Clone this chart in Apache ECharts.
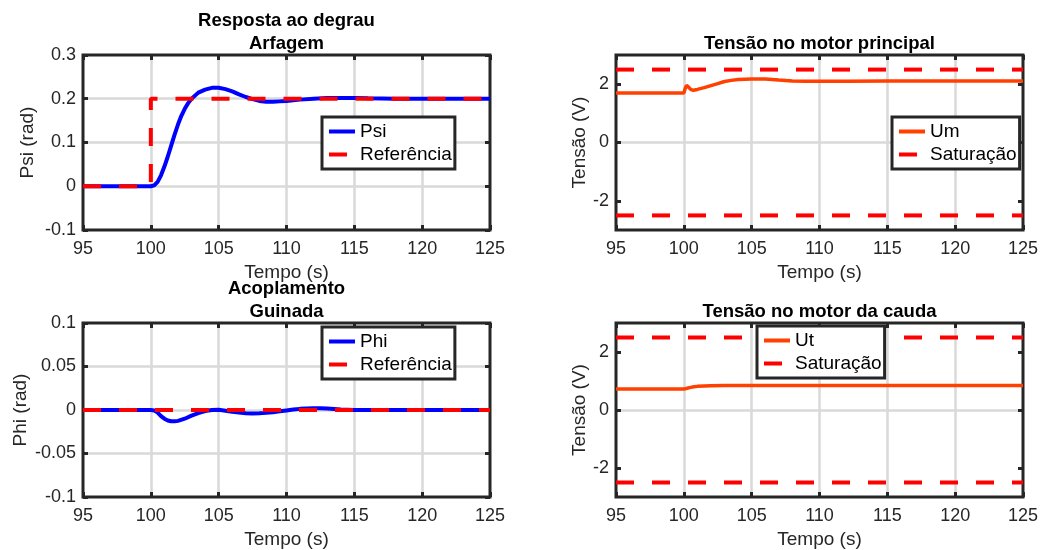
<!DOCTYPE html>
<html>
<head>
<meta charset="utf-8">
<script src="https://cdn.jsdelivr.net/npm/echarts@6/dist/echarts.min.js"></script>
<style>
  html, body { margin: 0; padding: 0; background: #ffffff; }
  #chart { width: 1043px; height: 550px; }
</style>
</head>
<body>
<div id="chart"></div>
<script>
// ---- data -------------------------------------------------------------
const timeTicks = [95, 100, 105, 110, 115, 120, 125];
const voltageTicks = [-2, 0, 2];

// Pitch (Arfagem) step response
const psiTime = [95, 100, 100.25, 100.5, 100.75, 101, 101.25, 101.5, 101.75, 102,
  102.25, 102.5, 102.75, 103, 103.5, 104, 104.5, 105, 105.5, 106,
  106.5, 107, 107.5, 108, 108.5, 109, 109.5, 110, 111, 112,
  113, 114, 115, 116, 118, 120, 125];
const psiValues = [0, 0, 0.002, 0.010, 0.025, 0.045, 0.068, 0.093, 0.118, 0.141,
  0.161, 0.177, 0.190, 0.200, 0.214, 0.221, 0.225, 0.225, 0.222, 0.217,
  0.210, 0.204, 0.199, 0.195, 0.193, 0.193, 0.194, 0.195, 0.198, 0.200,
  0.202, 0.202, 0.202, 0.201, 0.200, 0.200, 0.200];
const psiRefTime = [95, 100, 100, 125];
const psiRefValues = [0, 0, 0.2, 0.2];

// Yaw (Guinada) coupling
const phiTime = [95, 100, 100.25, 100.5, 100.75, 101, 101.25, 101.5, 101.75, 102,
  102.5, 103, 103.5, 104, 104.5, 105, 105.5, 106, 106.5, 107,
  107.5, 108, 108.5, 109, 109.5, 110, 110.5, 111, 111.5, 112,
  112.5, 113, 113.5, 114, 115, 116, 125];
const phiValues = [0, 0, -0.0005, -0.003, -0.007, -0.010, -0.012, -0.013, -0.013, -0.0125,
  -0.010, -0.0065, -0.0035, -0.0012, 0, 0.0003, -0.0008, -0.002, -0.003, -0.0037,
  -0.004, -0.0038, -0.0033, -0.0025, -0.0015, -0.0005, 0.0005, 0.0013, 0.0018, 0.002,
  0.002, 0.0017, 0.0012, 0.0006, 0.0001, 0, 0];
const phiRefTime = [95, 125];
const phiRefValues = [0, 0];

// Main motor voltage
const umTime = [95, 100, 100.1, 100.2, 100.35, 100.5, 100.7, 101, 101.5, 102,
  102.5, 103, 103.5, 104, 104.5, 105, 106, 107, 108, 109,
  110, 112, 115, 120, 125];
const umValues = [1.70, 1.70, 1.85, 1.96, 1.90, 1.82, 1.79, 1.82, 1.88, 1.95,
  2.02, 2.09, 2.13, 2.16, 2.17, 2.18, 2.18, 2.14, 2.11, 2.10,
  2.10, 2.10, 2.11, 2.11, 2.11];

// Tail motor voltage
const utTime = [95, 100, 100.25, 100.5, 100.75, 101, 101.5, 102, 103, 104, 125];
const utValues = [0.72, 0.72, 0.75, 0.78, 0.80, 0.815, 0.83, 0.84, 0.845, 0.848, 0.848];

// Actuator saturation limits
const satTime = [95, 125];
const satUpper = [2.5, 2.5];
const satLower = [-2.5, -2.5];

// ---- styling ----------------------------------------------------------
const FONT = '"Liberation Sans", Arial, Helvetica, sans-serif';
const INK = '#262626';
const GRIDLINE = '#d9d9d9';
const BLUE = '#0000ff';
const RED = '#ff0000';
const ORANGE = '#ff4000';
const DASH = [18, 18];

function pairs(t, v) { return t.map((x, i) => [x, v[i]]); }

const gridBoxes = [
  { left: 83, top: 55, width: 407, height: 175 },
  { left: 616, top: 55, width: 407, height: 175 },
  { left: 83, top: 323, width: 407, height: 177 },
  { left: 616, top: 323, width: 407, height: 177 }
];

const tickStyle = { show: true, inside: true, length: 5, lineStyle: { color: INK, width: 3 } };
const labelStyle = { color: INK, fontSize: 18, fontFamily: FONT };
const nameStyle = { color: INK, fontSize: 19, fontFamily: FONT };
const splitStyle = { show: true, showMinLine: false, showMaxLine: false, lineStyle: { color: GRIDLINE, width: 2.5 } };
const hiddenLine = { show: false, onZero: false };

function timeAxes(g) {
  return [
    {
      type: 'value', gridIndex: g, position: 'bottom',
      min: timeTicks[0], max: timeTicks[timeTicks.length - 1], interval: 5,
      name: 'Tempo (s)', nameLocation: 'middle', nameGap: 33, nameTextStyle: nameStyle,
      axisLine: hiddenLine, axisTick: tickStyle,
      axisLabel: Object.assign({ margin: 10 }, labelStyle),
      splitLine: splitStyle
    },
    {
      type: 'value', gridIndex: g, position: 'top',
      min: timeTicks[0], max: timeTicks[timeTicks.length - 1], interval: 5,
      axisLine: hiddenLine, axisTick: tickStyle,
      axisLabel: { show: false }, splitLine: { show: false }
    }
  ];
}

function valueAxes(g, spec) {
  const tick = Object.assign({}, tickStyle);
  const label = Object.assign({ margin: 7 }, labelStyle);
  if (spec.ticks) { tick.customValues = spec.ticks; label.customValues = spec.ticks; }
  const base = { type: 'value', gridIndex: g, min: spec.min, max: spec.max };
  if (!spec.ticks) base.interval = spec.interval;
  return [
    Object.assign({}, base, {
      position: 'left',
      name: spec.name, nameLocation: 'middle', nameGap: spec.nameGap, nameTextStyle: nameStyle,
      axisLine: hiddenLine, axisTick: tick, axisLabel: label,
      splitLine: splitStyle
    }),
    Object.assign({}, base, {
      position: 'right',
      axisLine: hiddenLine, axisTick: tick,
      axisLabel: { show: false }, splitLine: { show: false }
    })
  ];
}

function lineSeries(name, g, t, v, color, width, dashed) {
  return {
    type: 'line', name: name, xAxisIndex: 2 * g, yAxisIndex: 2 * g,
    data: pairs(t, v), symbol: 'none', showSymbol: false, smooth: false,
    animation: false, silent: true,
    lineStyle: { color: color, width: width, type: dashed ? DASH : 'solid', cap: 'butt' },
    itemStyle: { color: color }
  };
}

function legendBox(left, top, names) {
  return {
    left: left, top: top, orient: 'vertical', data: names,
    itemWidth: 26, itemHeight: 14, itemGap: 2,
    padding: [4, 3, 4, 5],
    backgroundColor: '#ffffff', borderColor: INK, borderWidth: 3, borderRadius: 0,
    selectedMode: false,
    itemStyle: { opacity: 0, borderWidth: 0 },
    lineStyle: { width: 4 },
    textStyle: { color: '#000000', fontSize: 19, fontFamily: FONT, lineHeight: 21 }
  };
}

function titleText(text, cx, top) {
  return {
    text: text, left: cx, top: top, textAlign: 'center', padding: 0,
    textStyle: { color: '#000000', fontSize: 18.5, fontWeight: 'bold', fontFamily: FONT, lineHeight: 23 }
  };
}

const option = {
  animation: false,
  backgroundColor: '#ffffff',
  title: [
    titleText('Resposta ao degrau\nArfagem', 286.5, 9),
    titleText('Tensão no motor principal', 819.5, 32),
    titleText('Acoplamento\nGuinada', 286.5, 277),
    titleText('Tensão no motor da cauda', 819.5, 300)
  ],
  legend: [
    legendBox(322, 117, ['Psi', 'Referência']),
    legendBox(892, 117, ['Um', 'Saturação']),
    legendBox(322, 327, ['Phi', 'Referência']),
    legendBox(757, 326, ['Ut', 'Saturação'])
  ],
  grid: gridBoxes.map(b => Object.assign({ show: true, borderColor: INK, borderWidth: 3, backgroundColor: '#ffffff' }, b)),
  xAxis: [].concat(timeAxes(0), timeAxes(1), timeAxes(2), timeAxes(3)),
  yAxis: [].concat(
    valueAxes(0, { min: -0.1, max: 0.3, interval: 0.1, name: 'Psi (rad)', nameGap: 46 }),
    valueAxes(1, { min: -3, max: 3, ticks: voltageTicks, name: 'Tensão (V)', nameGap: 27 }),
    valueAxes(2, { min: -0.1, max: 0.1, interval: 0.05, name: 'Phi (rad)', nameGap: 53 }),
    valueAxes(3, { min: -3, max: 3, ticks: voltageTicks, name: 'Tensão (V)', nameGap: 27 })
  ),
  series: [
    lineSeries('Psi', 0, psiTime, psiValues, BLUE, 4, false),
    lineSeries('Referência', 0, psiRefTime, psiRefValues, RED, 4, true),
    lineSeries('Um', 1, umTime, umValues, ORANGE, 3.5, false),
    lineSeries('Saturação', 1, satTime, satUpper, RED, 4, true),
    lineSeries('Saturação', 1, satTime, satLower, RED, 4, true),
    lineSeries('Phi', 2, phiTime, phiValues, BLUE, 4, false),
    lineSeries('Referência', 2, phiRefTime, phiRefValues, RED, 4, true),
    lineSeries('Ut', 3, utTime, utValues, ORANGE, 3.5, false),
    lineSeries('Saturação', 3, satTime, satUpper, RED, 4, true),
    lineSeries('Saturação', 3, satTime, satLower, RED, 4, true)
  ]
};

const chart = echarts.init(document.getElementById('chart'), null, { renderer: 'canvas' });
chart.setOption(option);
</script>
</body>
</html>
